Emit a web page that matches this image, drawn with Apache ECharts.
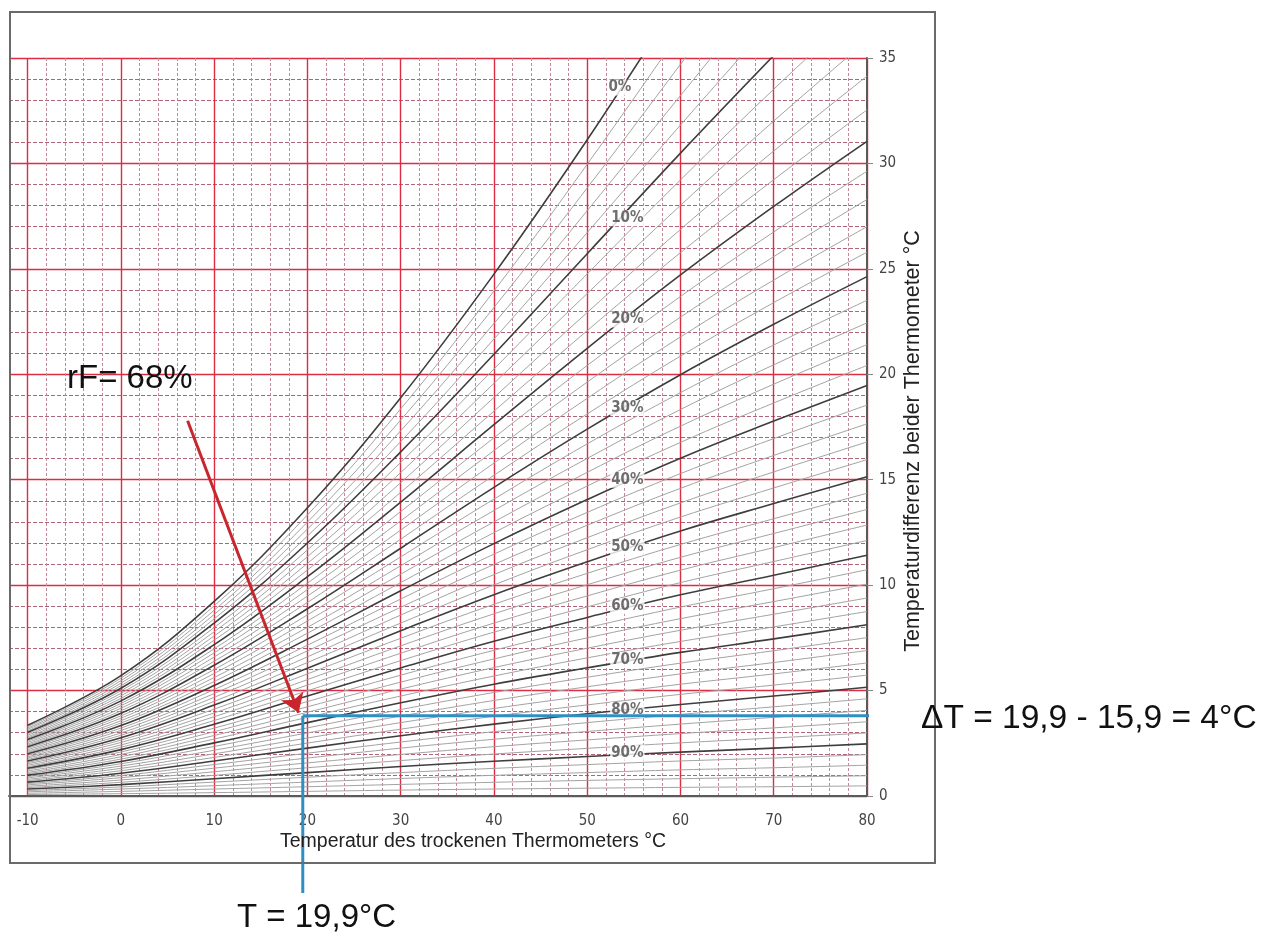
<!DOCTYPE html>
<html>
<head>
<meta charset="utf-8">
<title>Psychrometer-Diagramm</title>
<script src="https://cdn.jsdelivr.net/npm/echarts@6/dist/echarts.min.js"></script>
<style>
  html, body { margin: 0; padding: 0; background: #fff; }
  #chart { width: 1278px; height: 939px; }
</style>
</head>
<body>
<div id="chart"></div>
<script>
// Diagramm-Instanz
const chart = echarts.init(document.getElementById('chart'));

// Stützstellen: Temperatur des trockenen Thermometers (°C)
const TEMPS = [-10, 0, 10, 20, 30, 40, 50, 60, 70, 80];

// relative Feuchte jeder Kurve (%), 10er-Schritte sind dunkel
const RH_LEVELS = [0, 2, 4, 6, 8, 10, 12, 14, 16, 18, 20, 22, 24, 26, 28, 30, 32, 34, 36, 38,
  40, 42, 44, 46, 48, 50, 52, 54, 56, 58, 60, 62, 64, 66, 68, 70, 72, 74, 76, 78,
  80, 82, 84, 86, 88, 90, 92, 94, 96, 98];

// Temperaturdifferenz je Kurve an den Stützstellen (null = schon über 35)
const CURVE_DT = [
  [3.36, 5.71, 9.23, 13.67, 18.89, 24.75, 31.12, 37.92, null, null],
  [3.29, 5.59, 9.02, 13.33, 18.36, 23.95, 29.96, 36.26, null, null],
  [3.22, 5.47, 8.81, 12.99, 17.83, 23.17, 28.84, 34.70, 40.62, null],
  [3.16, 5.35, 8.61, 12.66, 17.32, 22.41, 27.76, 33.22, 38.65, null],
  [3.09, 5.23, 8.40, 12.33, 16.81, 21.67, 26.72, 31.82, 36.83, null],
  [3.02, 5.11, 8.20, 12.00, 16.32, 20.95, 25.72, 30.49, 35.12, null],
  [2.95, 4.99, 7.99, 11.67, 15.82, 20.25, 24.76, 29.22, 33.52, 37.65],
  [2.88, 4.87, 7.79, 11.35, 15.34, 19.57, 23.83, 28.01, 32.01, 35.83],
  [2.81, 4.75, 7.59, 11.03, 14.86, 18.90, 22.93, 26.87, 30.59, 34.14],
  [2.75, 4.63, 7.39, 10.72, 14.40, 18.25, 22.07, 25.77, 29.23, 32.54],
  [2.68, 4.51, 7.18, 10.40, 13.94, 17.61, 21.23, 24.71, 27.96, 31.05],
  [2.61, 4.39, 6.98, 10.09, 13.49, 16.99, 20.42, 23.69, 26.75, 29.63],
  [2.54, 4.28, 6.79, 9.79, 13.05, 16.38, 19.63, 22.71, 25.58, 28.29],
  [2.47, 4.16, 6.59, 9.48, 12.61, 15.79, 18.86, 21.77, 24.47, 27.00],
  [2.41, 4.04, 6.39, 9.18, 12.18, 15.21, 18.12, 20.86, 23.40, 25.79],
  [2.34, 3.92, 6.20, 8.88, 11.75, 14.64, 17.40, 19.98, 22.37, 24.63],
  [2.27, 3.80, 6.00, 8.59, 11.34, 14.08, 16.70, 19.13, 21.39, 23.51],
  [2.20, 3.69, 5.81, 8.30, 10.92, 13.54, 16.01, 18.33, 20.45, 22.44],
  [2.13, 3.57, 5.62, 8.00, 10.52, 13.00, 15.35, 17.54, 19.53, 21.41],
  [2.07, 3.46, 5.43, 7.72, 10.12, 12.49, 14.70, 16.77, 18.64, 20.42],
  [2.00, 3.34, 5.24, 7.44, 9.73, 11.97, 14.06, 16.02, 17.78, 19.47],
  [1.93, 3.22, 5.05, 7.15, 9.34, 11.47, 13.45, 15.29, 16.95, 18.54],
  [1.86, 3.11, 4.86, 6.88, 8.95, 10.98, 12.84, 14.59, 16.15, 17.65],
  [1.80, 2.99, 4.68, 6.60, 8.58, 10.50, 12.25, 13.90, 15.37, 16.79],
  [1.73, 2.88, 4.49, 6.33, 8.20, 10.01, 11.68, 13.23, 14.61, 15.95],
  [1.66, 2.76, 4.31, 6.06, 7.84, 9.55, 11.11, 12.57, 13.87, 15.14],
  [1.59, 2.65, 4.12, 5.79, 7.48, 9.09, 10.56, 11.93, 13.15, 14.36],
  [1.53, 2.54, 3.94, 5.52, 7.12, 8.64, 10.02, 11.32, 12.45, 13.59],
  [1.46, 2.42, 3.76, 5.26, 6.77, 8.20, 9.49, 10.71, 11.78, 12.85],
  [1.39, 2.31, 3.58, 4.99, 6.42, 7.77, 8.97, 10.12, 11.12, 12.12],
  [1.32, 2.20, 3.40, 4.74, 6.07, 7.34, 8.47, 9.54, 10.47, 11.42],
  [1.26, 2.09, 3.22, 4.48, 5.73, 6.91, 7.98, 8.96, 9.83, 10.73],
  [1.19, 1.97, 3.05, 4.23, 5.40, 6.50, 7.50, 8.41, 9.22, 10.05],
  [1.12, 1.86, 2.87, 3.97, 5.07, 6.09, 7.01, 7.86, 8.62, 9.39],
  [1.06, 1.75, 2.70, 3.73, 4.74, 5.69, 6.55, 7.33, 8.02, 8.75],
  [0.99, 1.64, 2.52, 3.48, 4.42, 5.30, 6.08, 6.81, 7.45, 8.12],
  [0.92, 1.53, 2.35, 3.23, 4.10, 4.91, 5.63, 6.30, 6.89, 7.51],
  [0.86, 1.42, 2.17, 2.99, 3.79, 4.53, 5.18, 5.79, 6.33, 6.90],
  [0.79, 1.31, 2.00, 2.75, 3.48, 4.15, 4.75, 5.30, 5.79, 6.31],
  [0.73, 1.20, 1.83, 2.51, 3.17, 3.78, 4.32, 4.82, 5.26, 5.73],
  [0.66, 1.08, 1.66, 2.27, 2.86, 3.41, 3.90, 4.34, 4.74, 5.16],
  [0.59, 0.97, 1.49, 2.03, 2.56, 3.05, 3.48, 3.87, 4.23, 4.61],
  [0.53, 0.87, 1.32, 1.80, 2.27, 2.69, 3.06, 3.41, 3.73, 4.06],
  [0.46, 0.76, 1.15, 1.57, 1.97, 2.34, 2.66, 2.96, 3.23, 3.52],
  [0.40, 0.65, 0.98, 1.34, 1.68, 1.99, 2.26, 2.52, 2.75, 2.99],
  [0.33, 0.54, 0.82, 1.11, 1.40, 1.65, 1.87, 2.08, 2.27, 2.47],
  [0.26, 0.43, 0.66, 0.89, 1.11, 1.31, 1.49, 1.66, 1.80, 1.96],
  [0.20, 0.33, 0.49, 0.66, 0.83, 0.98, 1.11, 1.24, 1.34, 1.46],
  [0.13, 0.22, 0.33, 0.44, 0.55, 0.65, 0.74, 0.82, 0.89, 0.96],
  [0.07, 0.11, 0.16, 0.22, 0.28, 0.33, 0.37, 0.41, 0.44, 0.48]
];

// Beschriftung der dunklen Kurven
const LABEL_TEXT = ['0%', '10%', '20%', '30%', '40%', '50%', '60%', '70%', '80%', '90%'];
const LABEL_T = [53.5, 54.3, 54.3, 54.3, 54.3, 54.3, 54.3, 54.3, 54.3, 54.3];
const LABEL_DT = [33.6, 27.4, 22.6, 18.4, 15.0, 11.8, 9.0, 6.45, 4.08, 2.05];

// Ablesebeispiel: blaue Hilfslinien und roter Pfeil (Datenkoordinaten)
const READ_H = [[19.5, 3.8], [85.4, 3.8]];
const READ_V = [[19.5, 3.8], [19.5, -4.6]];
const ARROW = [[7.15, 17.8], [19.05, 3.95]];

const RED = '#dc2d45';
const MINOR_H = '#b06478';
const MINOR_V = '#c28896';
const NONE = 'rgba(0,0,0,0)';
const TICK_FONT = "'DejaVu Sans Condensed', 'Liberation Sans Narrow', sans-serif";
const TEXT_FONT = "'Liberation Sans', Arial, sans-serif";

// Kurven als Linienserien
const curveSeries = RH_LEVELS.map((rh, i) => ({
  type: 'line',
  xAxisIndex: 1,
  yAxisIndex: 0,
  data: TEMPS.map((t, j) => [t, CURVE_DT[i][j]]),
  smooth: 0.4,
  symbol: 'none',
  silent: true,
  connectNulls: false,
  lineStyle: rh % 10 === 0
    ? { color: '#3e3e3e', width: 1.6 }
    : { color: '#a3a3a3', width: 1 },
  z: rh % 10 === 0 ? 4 : 3
}));

const option = {
  animation: false,
  backgroundColor: '#fff',
  grid: { left: 9, right: 411, top: 58, bottom: 143 },
  xAxis: [
    { // Nebenlinien alle 2 °C (gestrichelt)
      type: 'value', position: 'top', min: -12, max: 80, interval: 2,
      axisLine: { show: false, onZero: false }, axisTick: { show: false }, axisLabel: { show: false },
      splitLine: {
        show: true,
        lineStyle: { color: [MINOR_V, NONE, MINOR_V, MINOR_V, MINOR_V], type: [3, 2], width: 1 }
      }
    },
    { // Hauptlinien alle 10 °C + Beschriftung
      type: 'value', position: 'bottom', min: -12, max: 80, interval: 2,
      axisLine: { show: true, onZero: false, lineStyle: { color: '#5a5a5a', width: 2 } },
      axisTick: { show: false },
      axisLabel: {
        margin: 18, color: '#444', fontSize: 15, fontFamily: TICK_FONT,
        formatter: v => (v % 10 === 0 ? String(v) : '')
      },
      splitLine: {
        show: true,
        lineStyle: { color: [NONE, RED, NONE, NONE, NONE], width: 1.4 }
      }
    }
  ],
  yAxis: [
    {
      type: 'value', position: 'right', min: 0, max: 35, interval: 5,
      axisLine: { show: true, onZero: false, lineStyle: { color: '#5a5a5a', width: 2 } },
      axisTick: { show: true, length: 6, lineStyle: { color: '#888' } },
      axisLabel: { margin: 12, color: '#444', fontSize: 15, fontFamily: TICK_FONT },
      splitLine: { show: true, lineStyle: { color: RED, width: 1.4 } },
      minorTick: { show: false, splitNumber: 5 },
      minorSplitLine: { show: true, lineStyle: { color: MINOR_H, type: [4, 2], width: 1 } }
    }
  ],
  series: [
    ...curveSeries,
    { // Prozent-Beschriftung mit weißem Hintergrund
      type: 'scatter',
      xAxisIndex: 1, yAxisIndex: 0,
      symbolSize: 1,
      itemStyle: { color: NONE },
      silent: true,
      z: 6,
      data: LABEL_TEXT.map((txt, i) => ({ name: txt, value: [LABEL_T[i], LABEL_DT[i]] })),
      label: {
        show: true, position: 'inside', formatter: '{b}',
        backgroundColor: '#fff', padding: [1, 1, 0, 1],
        color: '#4a4a4a', fontSize: 15, fontWeight: 'bold', fontFamily: TICK_FONT
      }
    },
    { // waagrechte blaue Linie + roter Pfeil
      type: 'line',
      xAxisIndex: 1, yAxisIndex: 0,
      data: READ_H,
      clip: false,
      symbol: 'none',
      silent: true,
      lineStyle: { color: '#2f8ec4', width: 3 },
      z: 8,
      markLine: {
        silent: true,
        symbol: ['none', 'arrow'],
        symbolSize: 18,
        lineStyle: { color: '#c8262c', width: 3, type: 'solid' },
        label: { show: false },
        data: [[{ coord: ARROW[0] }, { coord: ARROW[1] }]]
      }
    },
    { // senkrechte blaue Linie
      type: 'line',
      xAxisIndex: 1, yAxisIndex: 0,
      data: READ_V,
      clip: false,
      symbol: 'none',
      silent: true,
      lineStyle: { color: '#2f8ec4', width: 3 },
      z: 8
    }
  ],
  graphic: [
    { // Rahmen
      type: 'rect', z: 100, silent: true,
      shape: { x: 10, y: 12, width: 925, height: 851 },
      style: { fill: null, stroke: '#6a6a6a', lineWidth: 2 }
    },
    {
      type: 'text', x: 473, y: 842, z: 100,
      style: { text: 'Temperatur des trockenen Thermometers °C', font: '19.5px ' + TEXT_FONT, fill: '#222', textAlign: 'center', textVerticalAlign: 'middle' }
    },
    {
      type: 'text', x: 913, y: 441, rotation: Math.PI / 2, z: 100,
      style: { text: 'Temperaturdifferenz beider Thermometer °C', font: '21.5px ' + TEXT_FONT, fill: '#222', textAlign: 'center', textVerticalAlign: 'middle' }
    },
    {
      type: 'text', x: 67, y: 379, z: 100,
      style: { text: 'rF= 68%', font: '33px ' + TEXT_FONT, fill: '#111', textVerticalAlign: 'middle' }
    },
    {
      type: 'text', x: 921, y: 719, z: 100,
      style: { text: '\u0394T = 19,9 - 15,9 = 4°C', font: '33.5px ' + TEXT_FONT, fill: '#111', textVerticalAlign: 'middle' }
    },
    {
      type: 'text', x: 237, y: 918, z: 100,
      style: { text: 'T = 19,9°C', font: '33px ' + TEXT_FONT, fill: '#111', textVerticalAlign: 'middle' }
    }
  ]
};

chart.setOption(option);
window.addEventListener('resize', () => chart.resize());
</script>
</body>
</html>
